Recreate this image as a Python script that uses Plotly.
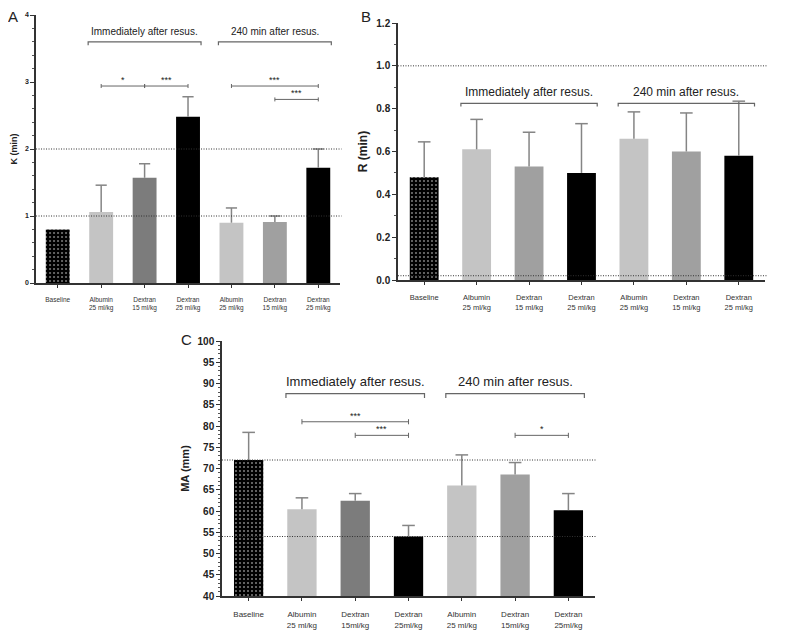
import plotly.graph_objects as go

# Данные
labels_ab = ['Baseline', 'Albumin<br>25 ml/kg', 'Dextran<br>15 ml/kg', 'Dextran<br>25 ml/kg',
             'Albumin<br>25 ml/kg', 'Dextran<br>15 ml/kg', 'Dextran<br>25 ml/kg']
labels_c = ['Baseline', 'Albumin<br>25 ml/kg', 'Dextran<br>15ml/kg', 'Dextran<br>25ml/kg',
            'Albumin<br>25 ml/kg', 'Dextran<br>15ml/kg', 'Dextran<br>25ml/kg']
groups = ['Immediately after resus.', '240 min after resus.']

k_mean = [0.80, 1.06, 1.57, 2.48, 0.90, 0.91, 1.72]
k_top = [None, 1.46, 1.78, 2.78, 1.12, 1.00, 2.00]   # у Baseline планки погрешности нет
r_mean = [0.48, 0.61, 0.53, 0.50, 0.66, 0.60, 0.58]
r_top = [0.645, 0.75, 0.69, 0.73, 0.785, 0.78, 0.835]
ma_mean = [72.0, 60.4, 62.4, 54.0, 66.0, 68.6, 60.2]
ma_top = [78.5, 63.1, 64.1, 56.6, 73.2, 71.4, 64.1]

k_ref = [1, 2]
r_ref = [0.02, 1.0]
ma_ref = [54, 72]

# сравнения: (от, до, уровень, подпись)
k_sig = [(1, 2, 2.94, '*'), (2, 3, 2.94, '***'), (4, 6, 2.94, '***'), (5, 6, 2.74, '***')]
ma_sig = [(1, 3, 81.0, '***'), (2, 3, 77.8, '***'), (5, 6, 77.8, '*')]

colors_ac = ['black', '#c4c4c4', '#7c7c7c', 'black', '#c4c4c4', '#a0a0a0', 'black']
colors_b = ['black', '#c4c4c4', '#a0a0a0', 'black', '#c4c4c4', '#a0a0a0', 'black']

FONT = 'Liberation Sans, Arial, sans-serif'
fig = go.Figure()


def add_panel(n, means, tops, colors, capw, refs, sig, bracket, text_y, ylo):
    ax = '' if n == 1 else str(n)
    xs = list(range(len(means)))
    # планки погрешностей (только вверх) — рисуем линиями под столбцами
    ex, ey = [], []
    for i, (m, t) in enumerate(zip(means, tops)):
        if t is not None:
            ex += [i, i, None]
            ey += [m, t, None]
    fig.add_trace(go.Scatter(x=ex, y=ey, mode='lines', line=dict(color='#858585', width=1.5),
                             xaxis='x' + ax, yaxis='y' + ax, showlegend=False, hoverinfo='skip'))
    cx = [i for i, t in enumerate(tops) if t is not None]
    cy = [t for t in tops if t is not None]
    fig.add_trace(go.Scatter(x=cx, y=cy, mode='markers', xaxis='x' + ax, yaxis='y' + ax,
                             marker=dict(symbol='line-ew', size=capw, line=dict(color='#858585', width=1.5)),
                             showlegend=False, hoverinfo='skip'))
    fig.add_trace(go.Bar(
        x=xs[:1], y=[means[0] - ylo], base=ylo, width=0.55, xaxis='x' + ax, yaxis='y' + ax,
        marker=dict(color='black', line_width=0,
                    pattern=dict(shape='.', fgcolor='white', bgcolor='black', size=4, solidity=0.2)),
        showlegend=False))
    fig.add_trace(go.Bar(
        x=xs[1:], y=[m - ylo for m in means[1:]], base=ylo, width=0.55, xaxis='x' + ax, yaxis='y' + ax,
        marker=dict(color=colors[1:], line_width=0), showlegend=False))
    for r in refs:
        fig.add_shape(type='line', xref='x' + ax + ' domain', yref='y' + ax, x0=0, x1=1.005, y0=r, y1=r,
                      line=dict(color='#333333', width=1, dash='1px,1.5px'))
    by, bsize, span = bracket
    for g, (a, b) in enumerate([(1, 3), (4, 6)]):
        x0, x1 = a - 0.3, b + 0.3
        fig.add_shape(type='path', xref='x' + ax, yref='y' + ax,
                      path=f'M {x0},{by - span} L {x0},{by} L {x1},{by} L {x1},{by - span}',
                      line=dict(color='#666666', width=1.2))
        fig.add_annotation(x=(x0 + x1) / 2, y=text_y, xref='x' + ax, yref='y' + ax, text=groups[g],
                           showarrow=False, yanchor='bottom', font=dict(size=bsize, color='#222', family=FONT))
    for a, b, lvl, txt in sig:
        tk = span * 0.6
        fig.add_shape(type='path', xref='x' + ax, yref='y' + ax,
                      path=f'M {a},{lvl - tk} L {a},{lvl + tk} M {a},{lvl} L {b},{lvl} M {b},{lvl - tk} L {b},{lvl + tk}',
                      line=dict(color='#666666', width=1))
        fig.add_annotation(x=(a + b) / 2, y=lvl, xref='x' + ax, yref='y' + ax, text=txt, showarrow=False,
                           yanchor='bottom', yshift=-1, font=dict(size=9, color='#222', family=FONT))


add_panel(1, k_mean, k_top, colors_ac, 8, k_ref, k_sig, (3.6, 10, 0.05), 3.64, 0)
add_panel(2, r_mean, r_top, colors_b, 9, r_ref, [], (0.825, 12, 0.015), 0.835, 0)
add_panel(3, ma_mean, ma_top, colors_ac, 9, ma_ref, ma_sig, (87.6, 13, 1.0), 88.3, 40)


def xax(dom, labels, size, standoff):
    return dict(domain=dom, range=[-0.5, 6.5], tickmode='array', tickvals=list(range(7)), ticktext=labels,
                showline=True, linecolor='#333', linewidth=1.5, ticks='outside', ticklen=3, tickwidth=1,
                tickcolor='#333', tickfont=dict(size=size, color='#333', family=FONT), automargin=False,
                ticklabelstandoff=standoff, showgrid=False, zeroline=False, fixedrange=True)


def yax(dom, rng, dtick, minor, title, tsize, size, anchor):
    return dict(domain=dom, range=rng, dtick=dtick, anchor=anchor, showline=True, linecolor='#333',
                linewidth=1.5, ticks='outside', ticklen=4, tickwidth=1, tickcolor='#333', automargin=False,
                minor=dict(ticks='outside', ticklen=2, dtick=minor, tickcolor='#555', showgrid=False),
                tickfont=dict(size=size, color='#222', family=FONT, weight='bold'),
                title=dict(text='<b>' + title + '</b>', font=dict(size=tsize, color='#222', family=FONT), standoff=6),
                showgrid=False, zeroline=False, fixedrange=True)


# страница сдвигает график на 8 px (отступ body), поэтому фигура 792x625
fig.update_layout(
    width=792, height=625, margin=dict(l=0, r=0, t=0, b=0, autoexpand=False),
    plot_bgcolor='white', paper_bgcolor='white', barmode='overlay',
    xaxis=xax([0.0354, 0.4192], labels_ab, 6.5, 6) | dict(anchor='y'),
    yaxis=yax([0.56, 0.9888], [0, 4], 1, 0.2, 'K (min)', 9, 7, 'x'),
    xaxis2=xax([0.4924, 0.9558], labels_ab, 7.5, 6) | dict(anchor='y2'),
    yaxis2=yax([0.5648, 0.976], [0, 1.2], 0.2, 0.1, 'R (min)', 12, 10, 'x2') | dict(tickformat='.1f'),
    xaxis3=xax([0.2702, 0.7412], labels_c, 8, 7) | dict(anchor='y3'),
    yaxis3=yax([0.0592, 0.4672], [40, 100], 5, 1, 'MA (mm)', 11, 10, 'x3'),
)
for txt, x, y in [('A', 0.006, 0.9856), ('B', 0.452, 0.9856), ('C', 0.226, 0.4704)]:
    fig.add_annotation(text=txt, x=x, y=y, xref='paper', yref='paper', showarrow=False,
                       xanchor='center', yanchor='middle', font=dict(size=15, color='#222', family=FONT))

fig.write_html("out.html")
